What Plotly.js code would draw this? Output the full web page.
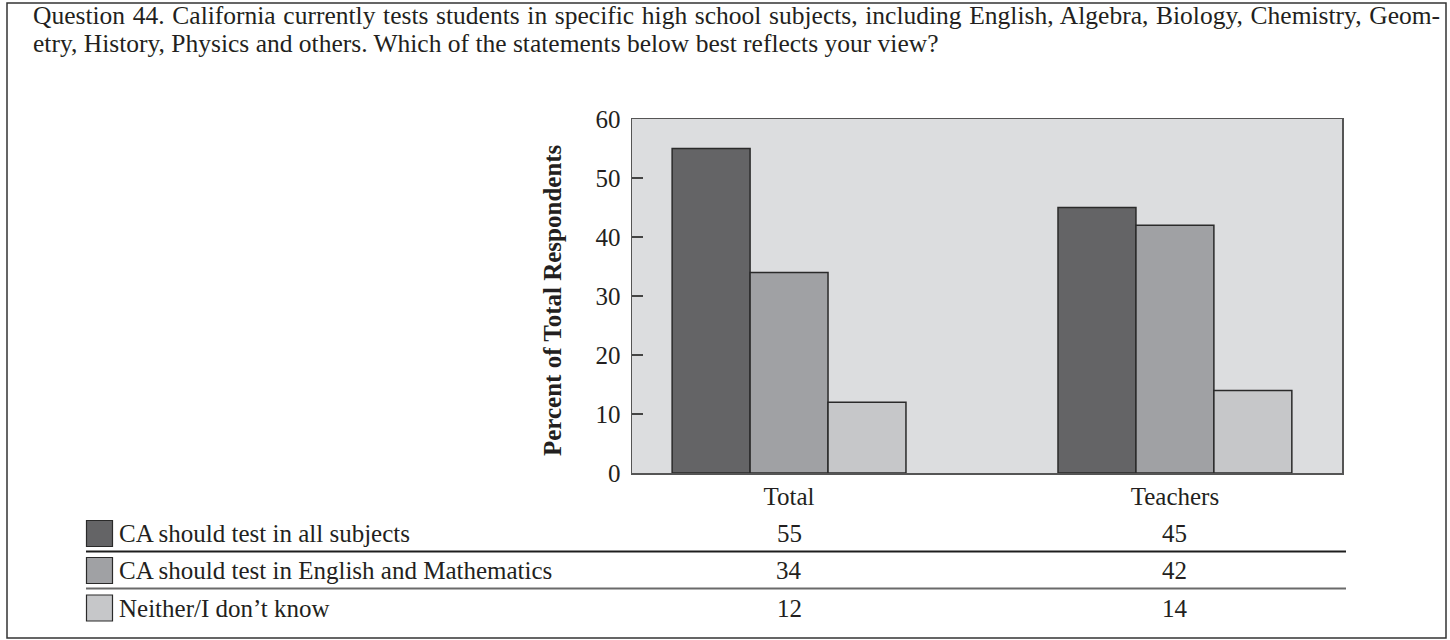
<!DOCTYPE html>
<html>
<head>
<meta charset="utf-8">
<script src="https://cdn.plot.ly/plotly-3.0.1.min.js"></script>
<style>
  html, body { margin: 0; padding: 0; background: #ffffff; }
  #chart { width: 1450px; height: 640px; }
</style>
</head>
<body>
<div id="chart"></div>
<script>
// Survey question text
const questionLines = [
  "Question 44. California currently tests students in specific high school subjects, including English, Algebra, Biology, Chemistry, Geom-",
  "etry, History, Physics and others. Which of the statements below best reflects your view?"
];

// Respondent groups
const groups = ["Total", "Teachers"];

// Answer options and their percentages per group
const answers = [
  "CA should test in all subjects",
  "CA should test in English and Mathematics",
  "Neither/I don\u2019t know"
];
const allSubjects = [55, 45];
const englishMath = [34, 42];
const neither = [12, 14];

const yTicks = [0, 10, 20, 30, 40, 50, 60];
const yTitle = "Percent of Total Respondents";

const seriesValues = [allSubjects, englishMath, neither];
const fills = ["#646466", "#a0a1a4", "#c6c7c9"];

const W = 1450, H = 640;
const plotL = 632, plotR = 1342, plotT = 119, plotB = 473;
const px = v => (v - plotL) / (plotR - plotL);          // pixel x -> paper x
const py = v => (plotB - v) / (plotB - plotT);          // pixel y -> paper y

const serif = "Liberation Serif, Times New Roman, serif";
const ink = "#231f20";
const textSize = 25;

const traces = seriesValues.map((vals, i) => ({
  type: "bar",
  name: answers[i],
  x: groups,
  y: vals,
  marker: { color: fills[i], line: { color: "#2a2a2a", width: 1.5 } },
  hoverinfo: "x+y+name",
  showlegend: false
}));

const annotations = [];
const shapes = [];

// Question text (first line is justified after drawing)
questionLines.forEach((t, i) => {
  annotations.push({
    xref: "paper", yref: "paper",
    x: px(31), y: py(15 + i * 28),
    xanchor: "left", yanchor: "middle", align: "left",
    text: t, showarrow: false,
    font: { family: serif, size: 25.5, color: ink }
  });
});

// Y axis title
annotations.push({
  xref: "paper", yref: "paper",
  x: px(552), y: py(300),
  xanchor: "center", yanchor: "middle",
  textangle: -90,
  text: "<b>" + yTitle + "</b>", showarrow: false,
  font: { family: serif, size: 25, color: ink }
});

// Data table beneath the chart
const rowCenters = [533.5, 570.5, 608];
answers.forEach((label, i) => {
  const yc = rowCenters[i];
  shapes.push({
    type: "rect", xref: "paper", yref: "paper",
    x0: px(86.5), x1: px(112.5), y0: py(yc - 13), y1: py(yc + 13),
    fillcolor: fills[i], line: { color: "#2a2a2a", width: 1.2 }
  });
  annotations.push({
    xref: "paper", yref: "paper",
    x: px(117), y: py(yc),
    xanchor: "left", yanchor: "middle",
    text: label, showarrow: false,
    font: { family: serif, size: textSize, color: ink }
  });
  groups.forEach((g, j) => {
    annotations.push({
      xref: "x", yref: "paper",
      x: g, y: py(yc),
      xanchor: "center", yanchor: "middle",
      text: String(seriesValues[i][j]), showarrow: false,
      font: { family: serif, size: textSize, color: ink }
    });
  });
});

// Row separators
[[551.5, "#1e1e1e"], [588.5, "#6a6a6a"]].forEach(([y, c]) => {
  shapes.push({
    type: "line", xref: "paper", yref: "paper",
    x0: px(86), x1: px(1346), y0: py(y), y1: py(y),
    line: { color: c, width: 2 }
  });
});

// Outer frame
shapes.push({
  type: "rect", xref: "paper", yref: "paper",
  x0: px(7), x1: px(1446), y0: py(3), y1: py(638),
  line: { color: "#333333", width: 1.5 }, layer: "below"
});

const layout = {
  width: W, height: H,
  margin: { l: plotL, r: W - plotR, t: plotT, b: H - plotB, pad: 0 },
  paper_bgcolor: "#ffffff",
  plot_bgcolor: "#dcdddf",
  barmode: "group",
  bargap: 0.394,
  bargroupgap: 0,
  font: { family: serif, color: ink },
  xaxis: {
    type: "category",
    range: [-0.407, 1.433],
    showgrid: false, zeroline: false,
    showline: true, mirror: true, linecolor: "#555555", linewidth: 1.5,
    ticks: "",
    tickfont: { family: serif, size: textSize, color: ink },
    fixedrange: true
  },
  yaxis: {
    range: [0, 60],
    tickvals: yTicks,
    ticktext: yTicks.map(String),
    ticks: "inside", ticklen: 11, tickwidth: 1.5, tickcolor: "#444444",
    showgrid: false, zeroline: false,
    showline: true, mirror: true, linecolor: "#555555", linewidth: 1.5,
    tickfont: { family: serif, size: textSize, color: ink },
    ticklabelstandoff: 5,
    fixedrange: true
  },
  annotations: annotations,
  shapes: shapes
};

// Stretch the word gaps of the first question line so it fills the text block
function justifyFirstLine(gd) {
  const texts = gd.querySelectorAll(".annotation-text");
  if (!texts.length) return;
  const el = texts[0];
  const targetRight = 1440;
  const box = el.getBoundingClientRect();
  const gdBox = gd.getBoundingClientRect();
  const width = box.right - gdBox.left;
  const spaces = (questionLines[0].match(/ /g) || []).length;
  const extra = (targetRight - width) / spaces;
  if (extra > 0) el.style.wordSpacing = extra.toFixed(2) + "px";
}

Plotly.newPlot("chart", traces, layout, { displayModeBar: false, staticPlot: true })
  .then(gd => justifyFirstLine(gd));
</script>
</body>
</html>
